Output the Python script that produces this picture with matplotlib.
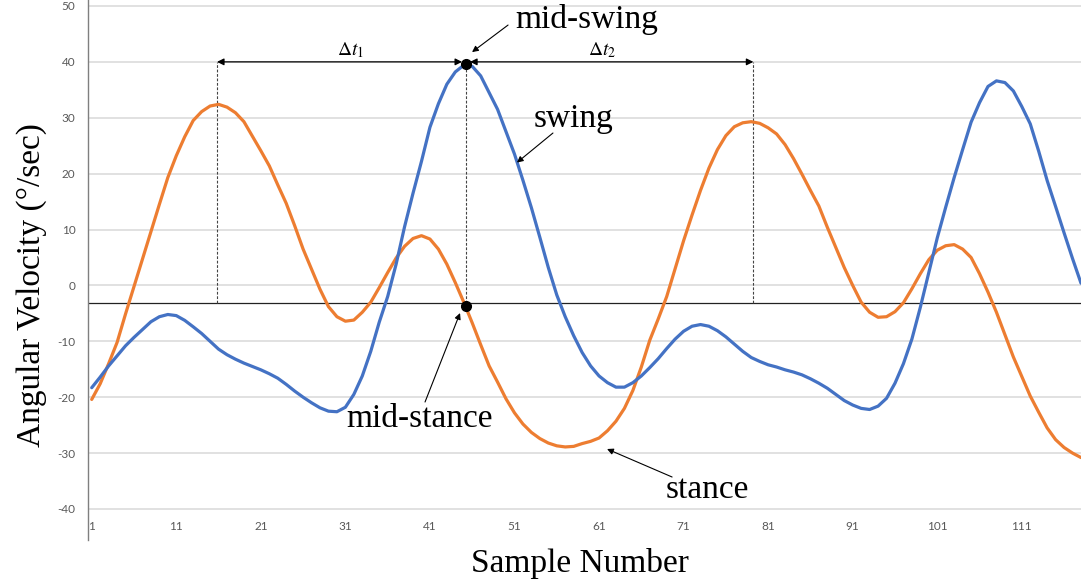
import matplotlib
matplotlib.use("Agg")
import matplotlib.pyplot as plt

# ---------------- data ----------------
samples = list(range(1, 119))

swing = [-18.3, -16.4, -14.4, -12.6, -10.8, -9.3, -7.9, -6.5, -5.6, -5.2,
         -5.4, -6.25, -7.4, -8.6, -10.0, -11.4, -12.4, -13.2, -13.9, -14.5,
         -15.1, -15.8, -16.6, -17.7, -18.9, -20.0, -21.0, -21.9, -22.5, -22.6,
         -21.8, -19.5, -16.2, -11.8, -6.6, -2.0, 3.8, 10.5, 16.5, 22.2,
         28.3, 32.5, 36.0, 38.2, 39.4, 39.2, 37.5, 34.5, 31.5, 27.5,
         23.5, 18.8, 13.9, 8.6, 3.2, -1.7, -5.6, -9.0, -12.0, -14.4,
         -16.2, -17.4, -18.2, -18.2, -17.4, -16.2, -14.7, -13.1, -11.3, -9.6,
         -8.2, -7.3, -7.0, -7.3, -8.1, -9.2, -10.5, -11.8, -12.9, -13.6,
         -14.2, -14.6, -15.1, -15.5, -16.0, -16.7, -17.5, -18.4, -19.5, -20.6,
         -21.4, -22.0, -22.2, -21.6, -20.2, -17.5, -14.0, -9.6, -3.9, 2.3,
         8.5, 14.0, 19.3, 24.3, 29.2, 32.7, 35.6, 36.6, 36.3, 34.8,
         32.0, 28.9, 24.0, 18.75, 14.1, 9.4, 4.8, 0.4]

stance = [-20.4, -17.6, -14.0, -10.2, -5.1, -0.2, 4.7, 9.6, 14.5, 19.3,
          23.2, 26.6, 29.5, 31.1, 32.1, 32.4, 31.9, 30.9, 29.3, 26.7,
          24.1, 21.4, 18.0, 14.7, 10.7, 6.5, 2.9, -0.7, -3.8, -5.6,
          -6.4, -6.2, -4.8, -3.0, -0.4, 2.3, 4.9, 7.0, 8.4, 8.9,
          8.3, 6.5, 3.8, 0.5, -3.0, -6.7, -10.6, -14.4, -17.3, -20.3,
          -22.8, -24.8, -26.3, -27.4, -28.2, -28.7, -28.9, -28.8, -28.3, -27.9,
          -27.3, -26.0, -24.3, -22.0, -18.8, -14.6, -9.8, -6.0, -2.0, 3.0,
          8.0, 12.6, 17.0, 21.0, 24.3, 26.8, 28.4, 29.1, 29.3, 29.0,
          28.2, 27.1, 25.2, 22.7, 19.9, 17.0, 14.2, 10.4, 6.8, 3.2,
          0.0, -3.0, -4.8, -5.7, -5.6, -4.7, -3.1, -0.6, 2.1, 4.6,
          6.3, 7.1, 7.3, 6.5, 5.0, 2.1, -1.2, -4.8, -8.8, -12.8,
          -16.3, -19.8, -22.7, -25.5, -27.6, -29.0, -30.0, -30.8]

x_ticks = [1, 11, 21, 31, 41, 51, 61, 71, 81, 91, 101, 111]
y_ticks = [-40, -30, -20, -10, 0, 10, 20, 30, 40, 50]

# event annotations (sample, value)
t_stance_peak1 = 15.82
t_mid = 45.27
t_stance_peak2 = 79.25
level_top = 40.0
level_ref = -3.15
mid_swing_pt = (45.27, 39.6)
mid_stance_pt = (45.27, -3.6)

# ---------------- figure ----------------
W, H = 1081, 586
fig = plt.figure(figsize=(W / 100, H / 100), dpi=100)
ax = fig.add_axes([88 / W, 46 / H, (W - 88) / W, 540 / H])

BLUE = "#4472C4"
ORANGE = "#ED7D31"
GRID = "#D9D9D9"
TICKC = "#595959"

ax.set_xlim(0.56, 118.0)
ax.set_ylim(-45.55, 51.07)

for yv in y_ticks:
    ax.axhline(yv, color=GRID, lw=1.1, zorder=0)

ax.plot(samples, stance, color=ORANGE, lw=2.3, zorder=3,
        solid_capstyle="round", solid_joinstyle="round")
ax.plot(samples, swing, color=BLUE, lw=2.3, zorder=3,
        solid_capstyle="round", solid_joinstyle="round")

# reference horizontal line
ax.axhline(level_ref, color="#222222", lw=0.9, zorder=2)

# dashed verticals
for xv in (t_stance_peak1, t_mid, t_stance_peak2):
    ax.plot([xv, xv], [level_ref, level_top], color="#444444", lw=0.8,
            ls=(0, (2.5, 1.5)), zorder=2)

# double arrows
arrowkw = dict(arrowstyle="<|-|>", color="black", lw=0.9,
               mutation_scale=10, shrinkA=0, shrinkB=0)
ax.annotate("", xy=(t_stance_peak1, level_top), xytext=(44.8, level_top),
            arrowprops=arrowkw, zorder=4)
ax.annotate("", xy=(45.75, level_top), xytext=(t_stance_peak2, level_top),
            arrowprops=arrowkw, zorder=4)

# dots
ax.plot(*mid_swing_pt, "o", color="black", ms=7, zorder=5)
ax.plot(*mid_stance_pt, "o", color="black", ms=7, zorder=5)

# texts
serif = "Liberation Serif"
ax.text(59.58, 46.05, "mid-swing", family=serif, fontsize=24,
        ha="center", va="baseline")
ax.text(57.93, 28.34, "swing", family=serif, fontsize=24,
        ha="center", va="baseline")
ax.text(39.77, -25.34, "mid-stance", family=serif, fontsize=24,
        ha="center", va="baseline")
ax.text(73.84, -38.04, "stance", family=serif, fontsize=24,
        ha="center", va="baseline")
plt.rcParams["mathtext.fontset"] = "stix"
ax.text(31.55, 41.2, r"$\Delta t_1$", fontsize=14, ha="center", va="baseline")
ax.text(61.36, 41.2, r"$\Delta t_2$", fontsize=14, ha="center", va="baseline")

# pointer arrows
pk = dict(arrowstyle="-|>", color="black", lw=0.8, mutation_scale=9,
          shrinkA=0, shrinkB=0)
ax.annotate("", xy=(45.98, 41.75), xytext=(50.24, 46.59), arrowprops=pk)
ax.annotate("", xy=(51.29, 21.98), xytext=(55.55, 27.27), arrowprops=pk)
ax.annotate("", xy=(44.56, -4.94), xytext=(40.42, -20.86), arrowprops=pk)
ax.annotate("", xy=(61.95, -29.27), xytext=(69.64, -34.28), arrowprops=pk)

# axes styling
for s in ("top", "right", "bottom"):
    ax.spines[s].set_visible(False)
ax.spines["left"].set_color("#7F7F7F")
ax.spines["left"].set_linewidth(1.0)

ax.set_xticks(x_ticks)
ax.set_xticklabels([str(v) for v in x_ticks])
ax.set_yticks(y_ticks)
ax.set_yticklabels([str(v) for v in y_ticks])
ax.tick_params(axis="both", length=0, labelsize=8.5, labelcolor=TICKC)
ax.tick_params(axis="x", pad=-13.5)
ax.tick_params(axis="y", pad=9)
for lab in ax.get_xticklabels() + ax.get_yticklabels():
    lab.set_family("Lato")

fig.text(580 / W, 1 - 572 / H, "Sample Number", family=serif, fontsize=24,
         ha="center", va="baseline")
fig.text(32 / W, 1 - 285 / H, "Angular Velocity (°/sec)", family=serif,
         fontsize=24, ha="center", va="center", rotation=90)

fig.savefig("out.png", dpi=100)
